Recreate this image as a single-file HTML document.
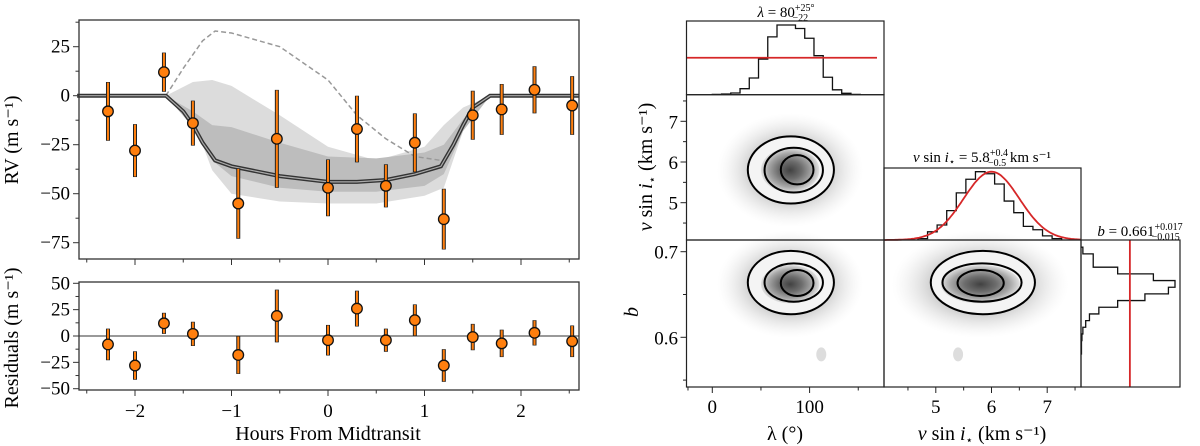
<!DOCTYPE html>
<html><head><meta charset="utf-8"><style>
html,body{margin:0;padding:0;background:#fff;}
svg{display:block;}
svg text{font-family:"Liberation Serif","DejaVu Serif",serif;}
</style></head><body>
<svg id="c" width="1200" height="446" viewBox="0 0 1200 446" xmlns="http://www.w3.org/2000/svg" font-family="Liberation Serif, serif">
<defs>
<radialGradient id="cloud" cx="50%" cy="50%" r="50%">
<stop offset="0" stop-color="#666" stop-opacity="0.55"/>
<stop offset="0.55" stop-color="#888" stop-opacity="0.4"/>
<stop offset="0.8" stop-color="#bbb" stop-opacity="0.2"/>
<stop offset="1" stop-color="#ddd" stop-opacity="0"/>
</radialGradient>
<radialGradient id="core" cx="50%" cy="50%" r="50%">
<stop offset="0" stop-color="#222"/>
<stop offset="0.4" stop-color="#555"/>
<stop offset="0.75" stop-color="#999"/>
<stop offset="1" stop-color="#ddd"/>
</radialGradient>
</defs>
</svg>
<script>
// ---------- data ----------
const obsTime=[-2.28,-2.0,-1.7,-1.4,-0.93,-0.53,0,0.3,0.6,0.9,1.2,1.5,1.8,2.14,2.53];
const obsRV=[-8,-28,12,-14,-55,-22,-47,-17,-46,-24,-63,-10,-7,3,-5];
const obsErr=[15,13.5,10,11.5,18,25,14.5,17,11,15,15.5,12.5,13,12,15];
const resid=[-8,-28,12,2,-18,19,-4,26,-4,15,-28,-1,-7,3,-5];
const modelT=[-2.6,-1.68,-1.5,-1.4,-1.3,-1.17,-1,-0.5,0,0.3,0.6,0.9,1.17,1.3,1.4,1.5,1.68,2.6];
const modelRV=[0,0,-8,-15,-24,-33,-36,-41,-44,-44,-43,-40,-36,-25,-15,-6,0,0];
const alignT=[-1.68,-1.5,-1.3,-1.17,-1,-0.5,0,0.3,0.6,0.9,1.17];
const alignRV=[0,14,28,33,32,25,8,-10,-22,-31,-33];
const bandT=[-1.68,-1.4,-1.2,-1,-0.5,0,0.5,1,1.2,1.4,1.68];
const outerHi=[0,7,8,5,-10,-26,-33,-26,-15,-6,0];
const outerLo=[0,-12,-38,-50,-54,-55,-55,-51,-47,-18,0];
const innerHi=[0,-8,-15,-16,-24,-31,-32,-29,-25,-12,0];
const innerLo=[0,-16,-33,-41,-47,-49,-49,-46,-40,-18,0];
const xTicks=[-2,-1,0,1,2];
const rvTicks=[25,0,-25,-50,-75];
const resTicks=[50,25,0,-25,-50];
// corner
const lamStart=0, lamWidth=9.5;
const lamHist=[0.5,1,2.4,8.6,24,51,83,100,100,95,81,56,25,7,2,0.5];
const lamPrior=53;
const vStart=4.68, vWidth=0.172;
const vHist=[2,12,22,43,69,89,100,97,82,57,40,20,15,6,2];
const vMean=6.0, vSig=0.5;
const bStart=0.5805, bWidth=0.0078;
const bHist=[0.5,0.5,1,2,5,9,19,39,68,93,100,77,39,13,13,2];
const bPrior=52;
const lamC=80, vC=5.8, bC=0.662;
const lamLevels=[[36.5,125],[53.7,113.7],[70.4,104]];
const vLevels=[[4.98,6.63],[5.25,6.35],[5.45,6.17]];
const bLevels=[[0.627,0.701],[0.6416,0.6864],[0.6483,0.6786]];
const vbX=[[4.91,6.78],[5.12,6.54],[5.39,6.22]];
const lamTicks=[0,100], vTicks=[5,6,7], bTicks=[0.7,0.6];

// ---------- helpers ----------
const svg=document.getElementById('c');
const NS='http://www.w3.org/2000/svg';
function mk(tag,at,parent){const e=document.createElementNS(NS,tag);for(const k in at)e.setAttribute(k,at[k]);(parent||svg).appendChild(e);return e;}
function lin(d0,d1,r0,r1){return v=>r0+(v-d0)*(r1-r0)/(d1-d0);}
function txt(x,y,s,size,anchor,rot){const t=mk('text',{x:x,y:y,'font-size':size,'text-anchor':anchor||'middle','font-family':'Liberation Serif, DejaVu Serif, serif'});if(rot)t.setAttribute('transform','rotate(-90 '+x+' '+y+')');t.textContent=s;return t;}

// ---------- left chart ----------
const X=lin(0,1,328,424.5);
const YT=lin(0,25,95.7,46.7);
const YB=lin(0,50,336,283.3);
const L=79,R=579;
const gTop=mk('g',{});  
function poly(xs,ys,xf,yf){return xs.map((v,i)=>xf(v).toFixed(1)+','+yf(ys[i]).toFixed(1)).join(' ');}
function band(hi,lo,fill,name){const pts=poly(bandT,hi,X,YT)+' '+poly(bandT.slice().reverse(),lo.slice().reverse(),X,YT);const p=mk('polygon',{points:pts,fill:fill},gTop);}
band(outerHi,outerLo,'#dcdcdc','outer-credible-band');
band(innerHi,innerLo,'#bdbdbd','inner-credible-band');
let dl=mk('polyline',{points:poly(alignT,alignRV,X,YT),fill:'none',stroke:'#999','stroke-width':1.5,'stroke-dasharray':'5,3'},gTop);


let m1=mk('polyline',{points:poly(modelT,modelRV,X,YT),fill:'none',stroke:'#333','stroke-width':4},gTop);


mk('polyline',{points:poly(modelT,modelRV,X,YT),fill:'none',stroke:'#aaa','stroke-width':1.2},gTop);
function points(ys,yf,g,prefix){
  obsTime.forEach((t,i)=>{
    const x=X(t);
    const eb=mk('line',{x1:x,x2:x,y1:yf(ys[i]+obsErr[i]),y2:yf(ys[i]-obsErr[i]),stroke:'#222','stroke-width':4},g);
    
    
    mk('line',{x1:x,x2:x,y1:yf(ys[i]+obsErr[i])+0.6,y2:yf(ys[i]-obsErr[i])-0.6,stroke:'#ff7f0e','stroke-width':2},g);
    const c=mk('circle',{cx:x,cy:yf(ys[i]),r:5.3,fill:'#ff7f0e',stroke:'#111','stroke-width':1.3},g);
    
    
  });
}
points(obsRV,YT,gTop,'rv');
mk('rect',{x:L,y:20,width:R-L,height:239,fill:'none',stroke:'#333','stroke-width':1.3});
const gBot=mk('g',{});  
let zl=mk('line',{x1:L,x2:R,y1:YB(0),y2:YB(0),stroke:'#999','stroke-width':2},gBot);


points(resid,YB,gBot,'residual');
mk('rect',{x:L,y:282,width:R-L,height:108,fill:'none',stroke:'#333','stroke-width':1.3});
// x ticks
for(let v=-2.5;v<=2.51;v+=0.5){const x=X(v);const maj=Math.abs(v-Math.round(v))<1e-6;
  mk('line',{x1:x,x2:x,y1:259,y2:259+(maj?6:3.5),stroke:'#333','stroke-width':1});
  mk('line',{x1:x,x2:x,y1:390,y2:390+(maj?6:3.5),stroke:'#333','stroke-width':1});}
xTicks.forEach(v=>{const t=txt(X(v),417,v<0?'\u2212'+(-v):String(v),19);});
for(let v=-75;v<=37.5;v+=12.5){const maj=v%25===0;mk('line',{x1:L,x2:L-(maj?6:3.5),y1:YT(v),y2:YT(v),stroke:'#333','stroke-width':1});}
rvTicks.forEach(v=>{const t=txt(L-9,YT(v)+6,v<0?'\u2212'+(-v):String(v),19,'end');});
for(let v=-50;v<=50;v+=12.5){const maj=v%25===0;mk('line',{x1:L,x2:L-(maj?6:3.5),y1:YB(v),y2:YB(v),stroke:'#333','stroke-width':1});}
resTicks.forEach(v=>{const t=txt(L-9,YB(v)+6,v<0?'\u2212'+(-v):String(v),19,'end');});
let a=txt(18,140,'RV (m s\u207B\u00B9)',20,'middle',true);
a=txt(18,338,'Residuals (m s\u207B\u00B9)',20,'middle',true);
a=txt(328,440,'Hours From Midtransit',20);

// ---------- corner plot ----------
const LX=lin(0,100,712.3,809.6);
const VX=lin(5,6,935.8,991.5);
const VY=lin(5,6,202.7,162);
const BY=lin(0.6,0.7,337.3,251.7);
const c1=[686.5,884],c2=[884,1081],c3=[1081,1180];
function hStep(start,w,vals,xf,yf){let d='M'+xf(start)+','+yf(0);vals.forEach((v,i)=>{d+=' L'+xf(start+i*w)+','+yf(v)+' L'+xf(start+(i+1)*w)+','+yf(v);});d+=' L'+xf(start+vals.length*w)+','+yf(0);return d;}
const HY1=lin(0,100,94.7,25);
let h=mk('path',{d:hStep(lamStart,lamWidth,lamHist,LX,HY1),fill:'none',stroke:'#111','stroke-width':1.3});

let rl=mk('line',{x1:c1[0],x2:877,y1:HY1(lamPrior),y2:HY1(lamPrior),stroke:'#d62728','stroke-width':1.8});

mk('rect',{x:c1[0],y:21,width:c1[1]-c1[0],height:73.7,fill:'none',stroke:'#222','stroke-width':1.2});
const HY2=lin(0,100,240,171.7);
h=mk('path',{d:hStep(vStart,vWidth,vHist,VX,HY2),fill:'none',stroke:'#111','stroke-width':1.3});

let gp=[];for(let v=4.07;v<=7.62;v+=0.03){gp.push(VX(v).toFixed(1)+','+HY2(100*Math.exp(-0.5*Math.pow((v-vMean)/vSig,2))).toFixed(1));}
let gl=mk('polyline',{points:gp.join(' '),fill:'none',stroke:'#d62728','stroke-width':1.8});

mk('rect',{x:c2[0],y:168,width:c2[1]-c2[0],height:72,fill:'none',stroke:'#222','stroke-width':1.2});
const HX3=lin(0,100,1081,1175);
let d='M'+HX3(0)+','+BY(bStart);bHist.forEach((v,i)=>{d+=' L'+HX3(v)+','+BY(bStart+i*bWidth)+' L'+HX3(v)+','+BY(bStart+(i+1)*bWidth);});d+=' L'+HX3(0)+','+BY(bStart+bHist.length*bWidth);
h=mk('path',{d:d,fill:'none',stroke:'#111','stroke-width':1.3});

rl=mk('line',{x1:HX3(bPrior),x2:HX3(bPrior),y1:240,y2:387,stroke:'#d62728','stroke-width':1.8});

mk('rect',{x:c3[0],y:240,width:c3[1]-c3[0],height:147,fill:'none',stroke:'#222','stroke-width':1.2});
function panel(xf,yf,cx,cy,xl,yl,rect,name,cluster){
  const g=mk('g',{});
  const X0=xf(cx),Y0=yf(cy);
  const rx=(xf(xl[0][1])-xf(xl[0][0]))/2, ry=Math.abs(yf(yl[0][1])-yf(yl[0][0]))/2;
  mk('ellipse',{cx:X0,cy:Y0,rx:rx*1.7,ry:ry*1.7,fill:'url(#cloud)'},g);
  if(cluster){mk('ellipse',{cx:cluster[0],cy:cluster[1],rx:5,ry:7,fill:'#bbb','fill-opacity':0.5},g);}
  const ecx=(xf(xl[0][1])+xf(xl[0][0]))/2, ecy=(yf(yl[0][1])+yf(yl[0][0]))/2;
  mk('ellipse',{cx:ecx,cy:ecy,rx:rx,ry:ry,fill:'#f4f4f4'},g);
  const ix=(xf(xl[1][1])-xf(xl[1][0]))/2, iy=Math.abs(yf(yl[1][1])-yf(yl[1][0]))/2;
  mk('ellipse',{cx:X0,cy:Y0,rx:ix,ry:iy,fill:'url(#core)','fill-opacity':0.85},g);
  xl.forEach((xr,i)=>{const yr=yl[i];
    const c=mk('ellipse',{cx:(xf(xr[0])+xf(xr[1]))/2,cy:(yf(yr[0])+yf(yr[1]))/2,rx:(xf(xr[1])-xf(xr[0]))/2,ry:Math.abs(yf(yr[1])-yf(yr[0]))/2,fill:'none',stroke:'#000','stroke-width':2});
    g.appendChild(c);
    
    });
  mk('rect',{x:rect[0],y:rect[1],width:rect[2],height:rect[3],fill:'none',stroke:'#222','stroke-width':1.2},g);
}
panel(LX,VY,lamC,vC,lamLevels,vLevels,[686.5,94.7,197.5,145.3],'lambda-vsini-panel',null);
panel(LX,BY,lamC,bC,lamLevels,bLevels,[686.5,240,197.5,147],'lambda-b-panel',[LX(112),BY(0.58)]);
panel(VX,BY,vC,bC,vbX,bLevels,[884,240,197,147],'vsini-b-panel',[VX(5.4),BY(0.58)]);
function tk(x1,y1,x2,y2){mk('line',{x1:x1,y1:y1,x2:x2,y2:y2,stroke:'#222','stroke-width':1});}
[-25,0,50,100,150].forEach(v=>{if(LX(v)>c1[0]&&LX(v)<c1[1])tk(LX(v),387,LX(v),387+(v%100===0?6:3.5));});
[4.5,5,5.5,6,6.5,7,7.5].forEach(v=>{if(VX(v)>c2[0]&&VX(v)<c2[1])tk(VX(v),387,VX(v),387+(v%1===0?6:3.5));});
[4.5,5,5.5,6,6.5,7,7.5].forEach(v=>{if(VY(v)>95&&VY(v)<240)tk(686.5,VY(v),686.5-(v%1===0?6:3.5),VY(v));});
[0.55,0.6,0.65,0.7].forEach(v=>{if(BY(v)>240&&BY(v)<387)tk(686.5,BY(v),686.5-(Math.abs(v*10-Math.round(v*10))<1e-6?6:3.5),BY(v));});
lamTicks.forEach(v=>{const t=txt(LX(v),413,String(v),19);});
vTicks.forEach(v=>{const t=txt(VX(v),413,String(v),19);});
vTicks.forEach(v=>{const t=txt(678,VY(v)+7,String(v),19,'end');});
bTicks.forEach(v=>{const t=txt(678,BY(v)+7,v.toFixed(1),19,'end');});
a=txt(652,167,'',20,'middle',true);a.innerHTML='<tspan font-style="italic">v</tspan> sin <tspan font-style="italic">i</tspan><tspan font-size="12" dy="4">\u22C6</tspan><tspan dy="-4"> (km s\u207B\u00B9)</tspan>';

a=txt(638,312,'b',20,'middle',true);a.setAttribute('font-style','italic');
a=txt(785,440,'\u03BB (\u00B0)',20);
a=txt(982,440,'',20);a.innerHTML='<tspan font-style="italic">v</tspan> sin <tspan font-style="italic">i</tspan><tspan font-size="12" dy="4">\u22C6</tspan><tspan dy="-4"> (km s\u207B\u00B9)</tspan>';

a=txt(786,17,'',15);a.innerHTML='<tspan font-style="italic">\u03BB</tspan> = 80<tspan font-size="10" dy="-6">+25\u00B0</tspan><tspan font-size="10" dx="-22" dy="10">\u221222</tspan>';

a=txt(982,162,'',15);a.innerHTML='<tspan font-style="italic">v</tspan> sin <tspan font-style="italic">i</tspan><tspan font-size="10" dy="3">\u22C6</tspan><tspan dy="-3"> = 5.8</tspan><tspan font-size="10" dy="-6">+0.4</tspan><tspan font-size="10" dx="-20" dy="10">\u22120.5</tspan><tspan dy="-4"> km s\u207B\u00B9</tspan>';

a=txt(1140,236,'',15);a.innerHTML='<tspan font-style="italic">b</tspan> = 0.661<tspan font-size="10" dy="-6">+0.017</tspan><tspan font-size="10" dx="-31" dy="10">\u22120.015</tspan>';

</script>
</body></html>
